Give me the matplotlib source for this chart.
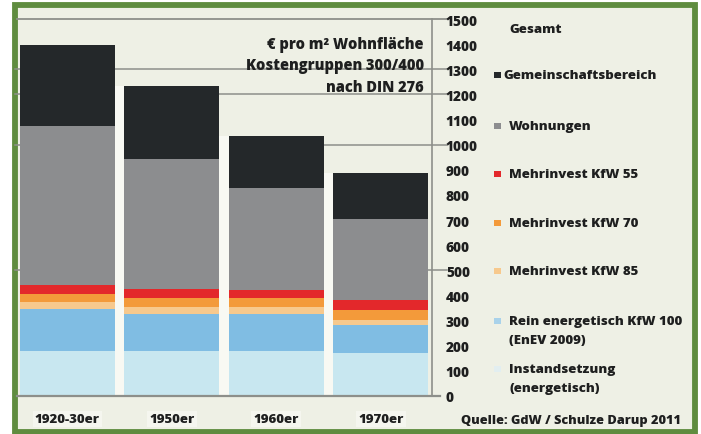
import matplotlib.pyplot as plt
import numpy as np
from matplotlib.patches import Rectangle

# Cost per m2 living area by building age, stacked by cost group
categories = ['1920-30er', '1950er', '1960er', '1970er']
instandsetzung = [180, 180, 180, 170]
rein_energetisch = [165, 145, 145, 112]
kfw85 = [28, 28, 28, 20]
kfw70 = [32, 36, 36, 39]
kfw55 = [37, 36, 32, 39]
wohnungen = [632, 518, 407, 324]
gemeinschaft = [323, 291, 207, 183]

y_ticks = list(range(0, 1600, 100))
grid_values = [500, 1000, 1200, 1300]

series = [instandsetzung, rein_energetisch, kfw85, kfw70, kfw55, wohnungen, gemeinschaft]
colors = ['#c8e7f0', '#80bde3', '#f7c98d', '#f39a3a', '#e3282b', '#8c8d8f', '#24282a']

legend_labels = ['Gemeinschaftsbereich', 'Wohnungen', 'Mehrinvest KfW 55',
                 'Mehrinvest KfW 70', 'Mehrinvest KfW 85',
                 'Rein energetisch KfW 100\n(EnEV 2009)', 'Instandsetzung\n(energetisch)']
legend_colors = ['#24282a', '#8c8d8f', '#e3282b', '#f39a3a', '#f7c98d', '#a9d2ea', '#e2eef0']

BG = '#eef0e5'
GREEN = '#5f8c3f'
LINE = '#8d8f8a'
TXT = '#1e1f1f'
W8 = 'heavy'

plt.rcParams['font.family'] = ['Open Sans', 'DejaVu Sans']

W, H = 701, 435
fig = plt.figure(figsize=(W / 100, H / 100), dpi=100, facecolor='white')


def fx(px):
    return px / W


def fy(py):
    return 1 - py / H


# green frame around the whole graphic
fig.add_artist(Rectangle((fx(15), fy(432.5)), fx(694.5) - fx(15), fy(5.5) - fy(432.5),
                         transform=fig.transFigure, facecolor=BG, edgecolor=GREEN,
                         linewidth=4.2, zorder=0))

ax = fig.add_axes([fx(15), fy(397), fx(432) - fx(15), fy(20) - fy(397)])
ax.set_facecolor('none')

x = np.arange(len(categories))
width = 0.91
totals = np.sum(series, axis=0)

# lighter strips in the gaps between neighbouring bars
for i in range(len(categories) - 1):
    ax.fill_between([x[i] + width / 2, x[i + 1] - width / 2], 0,
                    min(totals[i], totals[i + 1]), color='#f8f9f3', lw=0, zorder=1.5)

bottom = np.zeros(len(categories))
for vals, c in zip(series, colors):
    ax.bar(x, vals, width=width, bottom=bottom, color=c, edgecolor='none', zorder=2)
    bottom += np.array(vals)

# grid lines, running out past the axis toward the tick labels
for g in grid_values:
    ax.plot([0, 1.035], [g, g], transform=ax.get_yaxis_transform(), color=LINE,
            lw=1.1, clip_on=False, zorder=1)
ax.plot([0.005, 1.035], [1500, 1500], transform=ax.get_yaxis_transform(), color=LINE,
        lw=1.3, clip_on=False, zorder=1)
ax.plot([0.005, 1.02], [0, 0], transform=ax.get_yaxis_transform(), color=LINE,
        lw=1.6, clip_on=False, zorder=3)

ax.set_xlim(-0.5, 3.49)
ax.set_ylim(0, 1500)
for s in ['top', 'left', 'bottom']:
    ax.spines[s].set_visible(False)
ax.spines['right'].set_color(LINE)
ax.spines['right'].set_linewidth(1.2)

ax.yaxis.tick_right()
ax.set_yticks(y_ticks)
ax.set_yticklabels([str(v) for v in y_ticks], fontsize=9.8, fontweight=W8, color=TXT)
ax.tick_params(axis='y', length=0, pad=10)

ax.set_xticks(x)
ax.set_xticklabels(categories, fontsize=9.5, fontweight=W8, color=TXT)
ax.tick_params(axis='x', length=0, pad=12)
for t in ax.get_xticklabels():
    t.set_bbox(dict(facecolor='#f5f6ef', edgecolor='none', pad=1.5))

# unit note in the upper right of the plot
ax.text(0.98, 0.955, '€ pro m² Wohnfläche\nKostengruppen 300/400\nnach DIN 276',
        transform=ax.transAxes, ha='right', va='top', fontsize=10.5, fontweight=W8,
        color=TXT, linespacing=1.45, zorder=4)

# legend column on the right
fig.text(fx(509), fy(30), 'Gesamt', fontsize=9.5, fontweight=W8, color=TXT,
         ha='left', va='center')
legend_y = [76, 127, 175, 224, 272, 322, 370]
for i, (lab, c, yy) in enumerate(zip(legend_labels, legend_colors, legend_y)):
    tx = 503 if i == 0 else 509
    fig.add_artist(Rectangle((fx(494), fy(yy + 3)), fx(7), 6 / H,
                             transform=fig.transFigure, facecolor=c, edgecolor='none'))
    fig.text(fx(tx), fy(yy - 6), lab, fontsize=9.5, fontweight=W8, color=TXT,
             ha='left', va='top', linespacing=1.75)

fig.text(fx(681), fy(421), 'Quelle: GdW / Schulze Darup 2011', fontsize=9.2,
         fontweight=W8, color=TXT, ha='right', va='center')

fig.savefig('out.png', dpi=100, facecolor='white')
